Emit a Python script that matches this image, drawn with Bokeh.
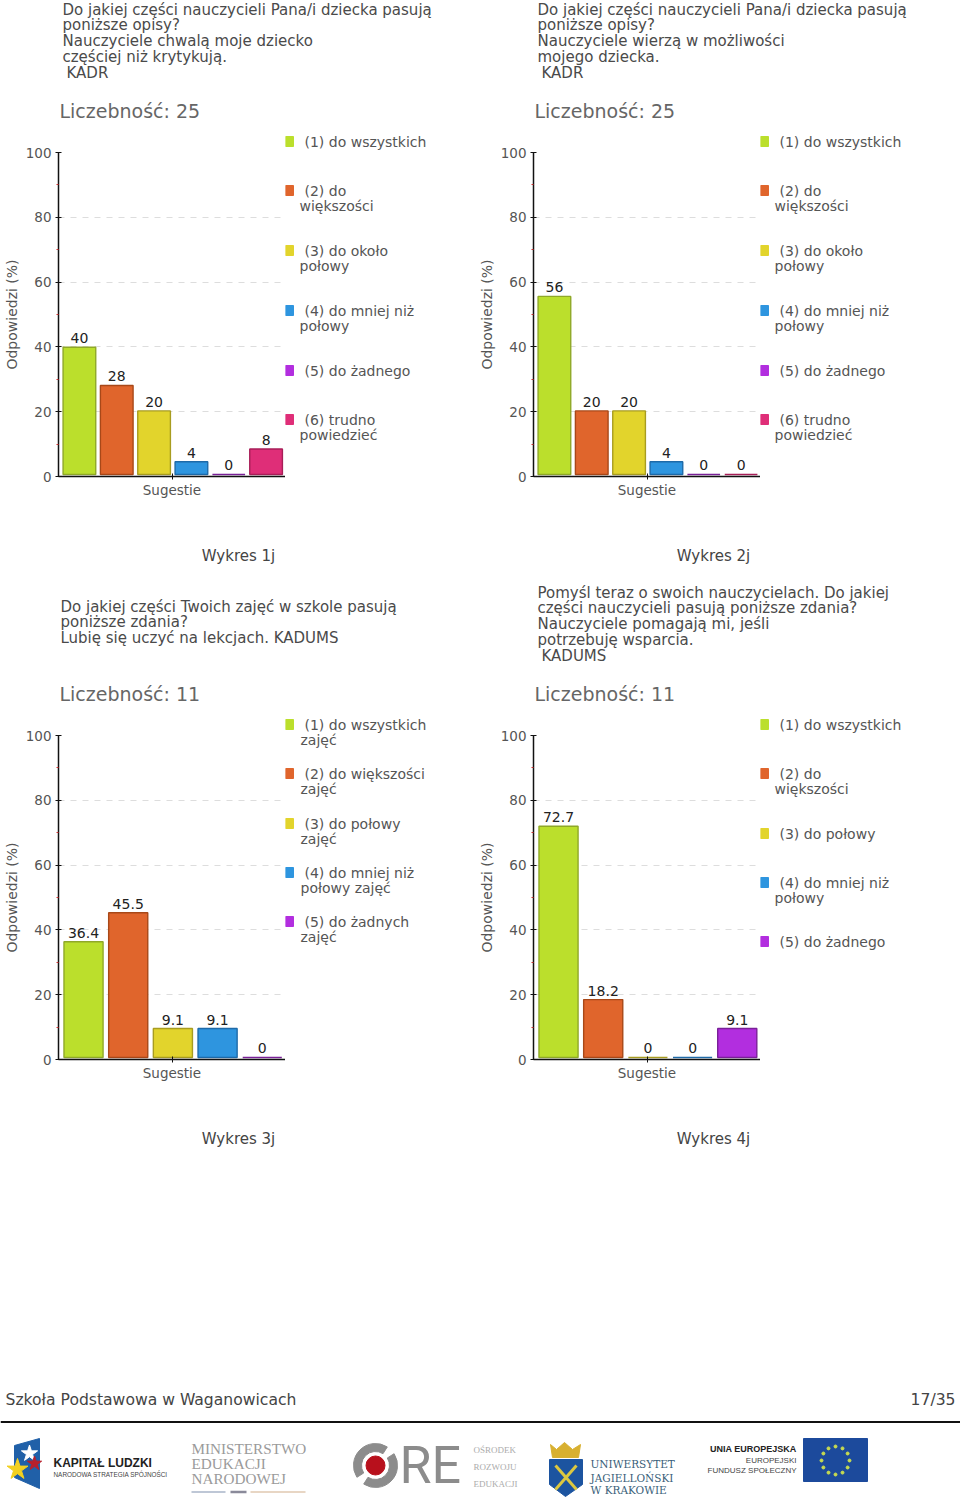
import math
from bokeh.embed import file_html
from bokeh.resources import INLINE
from bokeh.layouts import column, row
from bokeh.models import Range1d, FixedTicker, ColumnDataSource
from bokeh.plotting import figure
from bokeh.core.properties import value

# ---------- data ----------
values_1 = [40, 28, 20, 4, 0, 8]
values_2 = [56, 20, 20, 4, 0, 0]
values_3 = [36.4, 45.5, 9.1, 9.1, 0]
values_4 = [72.7, 18.2, 0, 0, 9.1]
counts = [25, 25, 11, 11]
captions = ["Wykres 1j", "Wykres 2j", "Wykres 3j", "Wykres 4j"]
y_ticks = [0, 20, 40, 60, 80, 100]
y_minor = [10, 30, 50, 70, 90]
question_1 = ["Do jakiej części nauczycieli Pana/i dziecka pasują", "poniższe opisy?", "Nauczyciele chwalą moje dziecko", "częściej niż krytykują.", " KADR"]
question_2 = ["Do jakiej części nauczycieli Pana/i dziecka pasują", "poniższe opisy?", "Nauczyciele wierzą w możliwości", "mojego dziecka.", " KADR"]
question_3 = ["Do jakiej części Twoich zajęć w szkole pasują", "poniższe zdania?", "Lubię się uczyć na lekcjach. KADUMS"]
question_4 = ["Pomyśl teraz o swoich nauczycielach. Do jakiej", "części nauczycieli pasują poniższe zdania?", "Nauczyciele pomagają mi, jeśli", "potrzebuję wsparcia.", " KADUMS"]
legend_1 = [["(1) do wszystkich"], ["(2) do", "większości"], ["(3) do około", "połowy"], ["(4) do mniej niż", "połowy"], ["(5) do żadnego"], ["(6) trudno", "powiedzieć"]]
legend_3 = [["(1) do wszystkich", "zajęć"], ["(2) do większości", "zajęć"], ["(3) do połowy", "zajęć"], ["(4) do mniej niż", "połowy zajęć"], ["(5) do żadnych", "zajęć"]]
legend_4 = [["(1) do wszystkich"], ["(2) do", "większości"], ["(3) do połowy"], ["(4) do mniej niż", "połowy"], ["(5) do żadnego"]]
fill_colors = ["#BBDF2C", "#E0652C", "#E2D42C", "#2E95DF", "#B22EDF", "#DF2E78"]
edge_colors = ["#8FA828", "#A84818", "#A89C20", "#1E6AA8", "#7A2098", "#A81E58"]
school = "Szkoła Podstawowa w Waganowicach"
page_no = "17/35"

# ---------- layout ----------
FONT = "DejaVu Sans"
GREY = "#555555"
W, H = 475, 583
FL, FT, FW, FH = 58, 152, 227, 324
PAD_TOP = 24        # room above the plot frame for the "100" tick label and the first legend row
PAD_BOTTOM = 26     # room below the frame for the x axis label
CHART_W = FL + FW
CHART_H = PAD_TOP + FH + PAD_BOTTOM
HEAD_H = FT - PAD_TOP
TAIL_H = H - HEAD_H - CHART_H


def panel(width, height, x0, x1, y0, y1):
    q = figure(width=width, height=height, output_backend="svg", toolbar_location=None,
               x_range=Range1d(x0, x1), y_range=Range1d(y1, y0), x_axis_type=None, y_axis_type=None,
               min_border=0, outline_line_color=None)
    q.grid.visible = False
    return q


def put(q, x, y, t, size, color=GREY, font=FONT, align="left", style="normal"):
    q.text([x], [y], text=[t], text_font=value(font), text_font_size=f"{size}px", text_color=color,
           text_align=align, text_baseline="middle", text_font_style=style)


def chart(vals):
    n = len(vals)
    start, end = 0.44, n + 0.52
    mid = (start + end) / 2
    p = figure(width=CHART_W, height=CHART_H, output_backend="svg", toolbar_location=None,
               x_range=Range1d(start, end), y_range=Range1d(0, 100),
               frame_width=FW, frame_height=FH,
               min_border_left=FL, min_border_right=0,
               min_border_top=PAD_TOP, min_border_bottom=PAD_BOTTOM,
               outline_line_color=None)
    p.extra_y_ranges = {"bars": Range1d(-0.63, 101.26)}
    p.xgrid.visible = False
    p.ygrid.ticker = FixedTicker(ticks=y_ticks)
    p.ygrid.grid_line_color = "#DDDDDD"
    p.ygrid.grid_line_dash = "6 6"

    ya = p.yaxis[0]
    ya.ticker = FixedTicker(ticks=y_ticks, minor_ticks=y_minor)
    ya.axis_label = "Odpowiedzi (%)"
    ya.axis_label_text_font = FONT
    ya.axis_label_text_font_style = "normal"
    ya.axis_label_text_font_size = "14px"
    ya.axis_label_text_color = GREY
    ya.axis_label_standoff = 3
    ya.major_label_text_font = FONT
    ya.major_label_text_font_size = "13.5px"
    ya.major_label_text_color = GREY
    ya.major_label_standoff = 4
    ya.axis_line_color = "#111111"
    ya.axis_line_width = 1.5
    ya.major_tick_line_color = "#111111"
    ya.major_tick_in = 3
    ya.major_tick_out = 3
    ya.minor_tick_line_color = "#CC3333"
    ya.minor_tick_in = 0
    ya.minor_tick_out = 2

    xa = p.xaxis[0]
    xa.ticker = FixedTicker(ticks=[mid])
    xa.major_label_overrides = {mid: "Sugestie"}
    xa.major_label_text_font = FONT
    xa.major_label_text_font_size = "13.5px"
    xa.major_label_text_color = GREY
    xa.major_label_standoff = 2
    xa.axis_line_color = "#111111"
    xa.axis_line_width = 1.5
    xa.major_tick_line_color = "#111111"
    xa.major_tick_in = 3
    xa.major_tick_out = 3
    xa.minor_tick_line_color = None

    src = ColumnDataSource(dict(
        x=list(range(1, n + 1)), top=vals, fill=fill_colors[:n], edge=edge_colors[:n],
        label=[f"{v:g}" for v in vals]))
    p.vbar(x="x", width=0.875, bottom=0, top="top", source=src, fill_color="fill",
           line_color="edge", line_width=1.4, y_range_name="bars")
    p.text(x="x", y="top", text="label", source=src, y_range_name="bars", text_align="center",
           text_baseline="bottom", y_offset=-4, text_font=value(FONT), text_font_size="14px",
           text_color="#222222")
    return p


def group(vals, question, q_x, q_y, count, caption, legend, legend_steps, cont_x):
    head = panel(W, HEAD_H, 0, W, 0, HEAD_H)
    for i, line in enumerate(question):
        indent = 4 if line.startswith(" ") else 0
        put(head, q_x + indent, q_y + i * 15.8, line.strip(), 15, "#4A4A4A")
    put(head, 59, 110, f"Liczebność: {count}", 19, "#666666")

    leg = panel(W - CHART_W, CHART_H, CHART_W, W, HEAD_H, HEAD_H + CHART_H)
    y = 141
    for i, entry in enumerate(legend):
        leg.quad(left=[285], right=[293], top=[y - 5], bottom=[y + 5], color=fill_colors[i])
        put(leg, 304, y, entry[0], 14)
        if len(entry) > 1:
            put(leg, cont_x, y + 15.5, entry[1], 14)
        y += legend_steps[i]

    tail = panel(W, TAIL_H, 0, W, HEAD_H + CHART_H, H)
    put(tail, 238, H - 28, caption, 15, "#444444", align="center")
    return column(head, row(chart(vals), column(leg, spacing=0), spacing=0), tail, spacing=0)


g1 = group(values_1, question_1, 62, 9, counts[0], captions[0], legend_1, [49, 60, 60, 60, 49, 0], 299)
g2 = group(values_2, question_2, 62, 9, counts[1], captions[1], legend_1, [49, 60, 60, 60, 49, 0], 299)
g3 = group(values_3, question_3, 60, 23, counts[2], captions[2], legend_3, [49, 50, 49, 49, 0], 300)
g4 = group(values_4, question_4, 62, 9, counts[3], captions[3], legend_4, [49, 60, 49, 59, 0], 299)

# ---------- footer ----------
TOP, BOT = 1166, 1505
f = panel(960, BOT - TOP, 0, 960, TOP, BOT)


def ftext(x, y, t, size, color="#444444", font="DejaVu Sans", align="left", style="normal"):
    put(f, x, y, t, size, color, font, align, style)


ftext(5, 1399, school, 15.6)
ftext(955, 1399, page_no, 15.6, align="right")
f.segment([0], [1421.5], [960], [1421.5], line_color="#111111", line_width=2)

# Kapitał Ludzki
f.patch([14, 39, 39, 14], [1445, 1438, 1488, 1477], color="#2060A8")
f.scatter([29], [1453], size=17, marker="star", color="#FFFFFF")
f.scatter([34], [1463], size=15, marker="star", color="#B8202C")
f.scatter([17], [1469], size=22, marker="star", color="#F2D020")
ftext(53, 1462, "KAPITAŁ LUDZKI", 12, "#222222", "Liberation Sans", style="bold")
ftext(53, 1474, "NARODOWA STRATEGIA SPÓJNOŚCI", 6.4, "#444444", "Liberation Sans")
# Ministerstwo
for yy, t in zip([1448, 1463, 1478], ["MINISTERSTWO", "EDUKACJI", "NARODOWEJ"]):
    ftext(191, yy, t, 15.2, "#9A9A9A", "Liberation Serif")
f.segment([191], [1491.5], [225], [1491.5], line_color="#A8B4C8", line_width=1.5)
f.segment([250], [1491.5], [305], [1491.5], line_color="#E0C8B0", line_width=1.5)
f.segment([230], [1491.5], [246], [1491.5], line_color="#8A8A9A", line_width=2.5)
# ORE
GAP = 0.22
f.annular_wedge([375, 375], [1465, 1465], inner_radius=14, outer_radius=22,
                start_angle=[math.pi / 4 + GAP, 5 * math.pi / 4 + GAP],
                end_angle=[5 * math.pi / 4 - GAP, 9 * math.pi / 4 - GAP],
                color="#8C8C8C", inner_radius_units="screen", outer_radius_units="screen")
f.scatter([375], [1465], size=19, color="#B8101C", marker="circle")
ftext(399, 1465, "RE", 52, "#8C8C8C", "Roboto")
for yy, t in zip([1449, 1466, 1483], ["OŚRODEK", "ROZWOJU", "EDUKACJI"]):
    ftext(473, yy, t, 9, "#ABABAB", "Liberation Serif")
# Uniwersytet Jagielloński
f.patch([550, 556, 564, 572, 580, 578, 552], [1444, 1449, 1442, 1449, 1444, 1457, 1457], color="#D8B030")
f.patch([549, 582, 582, 565, 549], [1459, 1459, 1484, 1496, 1484], color="#1C54A0")
f.segment([555, 576], [1465, 1465], [576, 555], [1489, 1489], color="#DCC840", line_width=3)
for yy, t in zip([1463, 1477, 1489], ["UNIWERSYTET", "JAGIELLOŃSKI", "W KRAKOWIE"]):
    ftext(590, yy, t, 10.5, "#3A5F7A", "DejaVu Serif")
# EU
ftext(796, 1448, "UNIA EUROPEJSKA", 9, "#222222", "Liberation Sans", align="right", style="bold")
ftext(796, 1460, "EUROPEJSKI", 8, "#444444", "Liberation Sans", align="right")
ftext(796, 1470, "FUNDUSZ SPOŁECZNY", 8, "#444444", "Liberation Sans", align="right")
f.patch([803, 867, 867, 803], [1438, 1438, 1481, 1481], color="#1C4A9C")
star_angles = [i * math.pi / 6 for i in range(12)]
f.scatter([835 + 14 * math.cos(a) for a in star_angles], [1460 + 14 * math.sin(a) for a in star_angles],
          size=3, color="#C8DC50", marker="circle")

page = column(row(g1, g2, spacing=0), row(g3, g4, spacing=0), f, spacing=0)
open("out.html", "w").write(file_html(page, INLINE))
